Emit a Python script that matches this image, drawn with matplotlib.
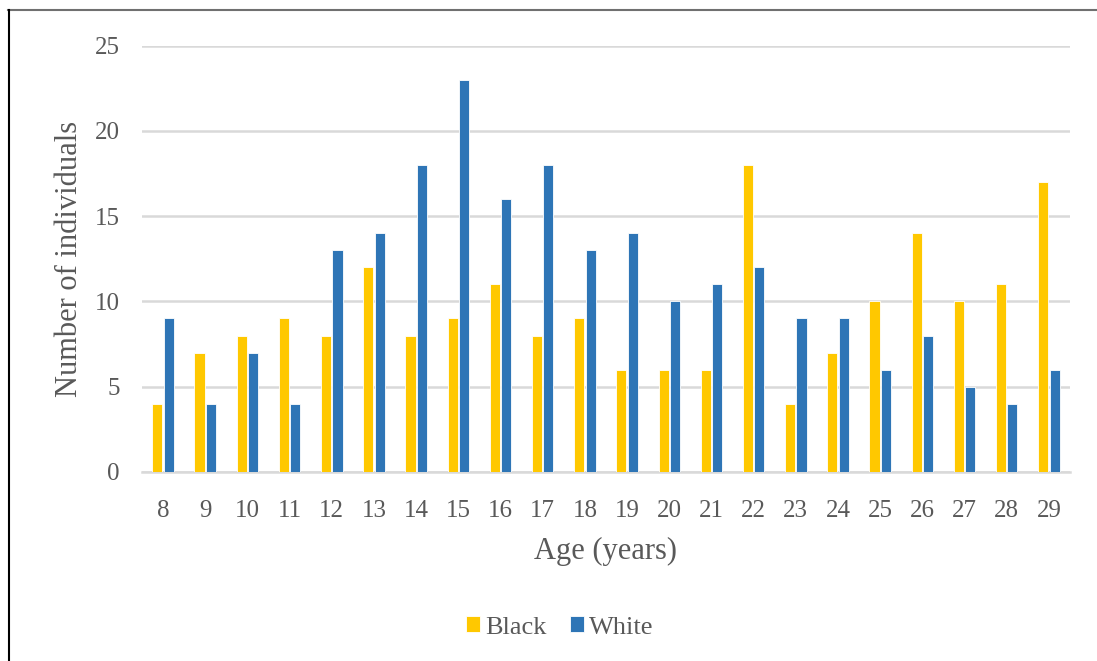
import numpy as np
import matplotlib.pyplot as plt
from matplotlib.lines import Line2D

plt.rcParams['font.family'] = 'Liberation Serif'

ages = [str(a) for a in range(8, 30)]
black = [4, 7, 8, 9, 8, 12, 8, 9, 11, 8, 9, 6, 6, 6, 18, 4, 7, 10, 14, 10, 11, 17]
white = [9, 4, 7, 4, 13, 14, 18, 23, 16, 18, 13, 14, 10, 11, 12, 9, 9, 6, 8, 5, 4, 6]

yellow = '#FFC800'
blue = '#2E75B6'
txt = '#595959'

fig = plt.figure(figsize=(10.97, 6.61), dpi=100)
ax = fig.add_axes([0.1294, 0.286, 0.846, 0.645])

x = np.arange(len(ages))
w = 0.24
ax.bar(x - w/2 - 0.015, black, w, color=yellow, edgecolor='white', linewidth=0.6, label='Black', zorder=3)
ax.bar(x + w/2 + 0.015, white, w, color=blue, edgecolor='white', linewidth=0.6, label='White', zorder=3)

ax.set_xlim(-0.5, len(ages) - 0.5)
ax.set_ylim(0, 25)
ax.set_yticks(range(0, 26, 5))
ax.set_xticks(x)
ax.set_xticklabels(ages)
ax.grid(axis='y', color='#d9d9d9', linewidth=1.8, zorder=0)
for s in ['top', 'right', 'left']:
    ax.spines[s].set_visible(False)
ax.spines['bottom'].set_color('#d9d9d9')
ax.spines['bottom'].set_linewidth(1.8)
ax.tick_params(length=0, labelsize=18, colors=txt)
ax.tick_params(axis='x', pad=20)
ax.tick_params(axis='y', pad=16)

ax.set_xlabel('Age (years)', fontsize=22, color=txt, labelpad=11)
ax.set_ylabel('Number of individuals', fontsize=22, color=txt, labelpad=8)

ax.legend(loc='center', bbox_to_anchor=(0.45, -0.365), ncol=2, frameon=False,
          fontsize=19, labelcolor=txt, handlelength=0.55, handleheight=0.55,
          handletextpad=0.18, columnspacing=0.9)

# frame lines along the top and left edges of the figure
fig.add_artist(Line2D([0.0073, 1.0], [0.985, 0.985], transform=fig.transFigure, color='#707070', linewidth=1.5))
fig.add_artist(Line2D([0.0078, 0.0078], [0.0, 0.985], transform=fig.transFigure, color='black', linewidth=1.5))

fig.savefig('out.png', dpi=100)
